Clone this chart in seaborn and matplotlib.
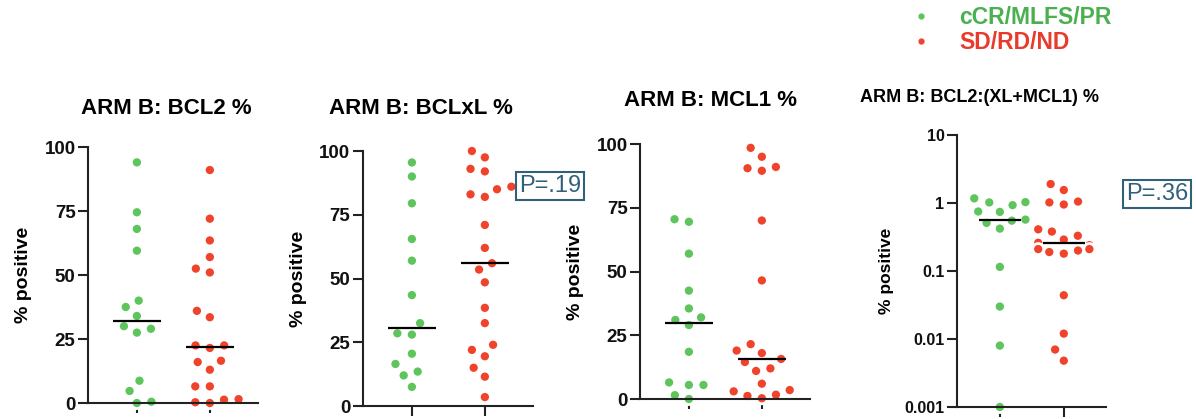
import numpy as np
import pandas as pd
import matplotlib
matplotlib.use("Agg")
import matplotlib.pyplot as plt
from matplotlib.lines import Line2D
import seaborn as sns

# response groups
groups = ["cCR/MLFS/PR", "SD/RD/ND"]
dot_colors = ["#5DC55B", "#F0432C"]
legend_colors = ["#4CB050", "#E93B2C"]

# values (% positive)
bcl2_cr = [94, 74.5, 68, 59.5, 40, 37.5, 34, 30, 29, 27.5, 8.7, 4.7, 0, 0.5]
bcl2_sd = [91, 72, 63.5, 57, 52.5, 51, 36, 33.5, 22.5, 22.5, 21.5, 16.5, 16, 13,
           6.5, 6.5, 1.5, 1.3, 0, 0.3]
bclxl_cr = [95.5, 90, 79.5, 65.5, 57, 43.5, 32.5, 28.5, 28, 20.5, 16.5, 13.5, 12, 7.5]
bclxl_sd = [100, 97.5, 93, 92, 86, 85, 83, 82, 71, 62, 56, 53.5, 48.5, 38.5, 32.5,
            24, 22, 19.5, 15, 11.5, 3.5]
mcl1_cr = [70.5, 69.5, 57, 42.5, 35.5, 32, 31, 29, 18.5, 6.5, 5.5, 5.5, 1.5, 0]
mcl1_sd = [98.5, 95, 91, 90.5, 89.5, 70, 46.5, 21.5, 19, 18, 15.7, 14.5, 12, 11,
           6, 4, 3.5, 3, 1.7, 1.2, 0.3]
ratio_cr = [1.17, 1.03, 1.02, 0.93, 0.75, 0.74, 0.57, 0.55, 0.51, 0.42, 0.115,
            0.03, 0.008, 0.001]
ratio_sd = [1.9, 1.55, 1.05, 1.02, 0.95, 0.41, 0.38, 0.33, 0.29, 0.27, 0.26, 0.24,
            0.21, 0.21, 0.2, 0.19, 0.18, 0.044, 0.012, 0.007, 0.0048]

titles = ["ARM B: BCL2 %", "ARM B: BCLxL %", "ARM B: MCL1 %", "ARM B: BCL2:(XL+MCL1) %"]
lin_ticks = [0, 25, 50, 75, 100]
log_ticks = [0.001, 0.01, 0.1, 1, 10]
log_labels = ["0.001", "0.01", "0.1", "1", "10"]
p_values = ["P=.19", "P=.36"]

sns.set_style("ticks")
plt.rcParams["font.family"] = ["Liberation Sans", "DejaVu Sans"]
plt.rcParams["font.weight"] = "bold"
plt.rcParams["text.color"] = "black"
plt.rcParams["axes.labelcolor"] = "black"
plt.rcParams["ytick.labelcolor"] = "#111111"

W, H = 1196, 419
fig = plt.figure(figsize=(W / 100, H / 100), dpi=100)


def add_ax(left, top, right, bottom):
    return fig.add_axes([left / W, 1 - bottom / H, (right - left) / W, (bottom - top) / H])


def draw_panel(ax, cr, sd, log=False):
    df = pd.DataFrame({"group": [groups[0]] * len(cr) + [groups[1]] * len(sd),
                       "value": cr + sd})
    if log:
        ax.set_yscale("log")
    sns.boxplot(data=df, x="group", y="value", order=groups, ax=ax, width=0.66,
                showbox=False, showcaps=False, showfliers=False,
                whiskerprops={"visible": False},
                medianprops={"color": "black", "linewidth": 1.6, "zorder": 5})
    sns.swarmplot(data=df, x="group", y="value", hue="group", order=groups,
                  hue_order=groups, palette=dot_colors, size=8, linewidth=2,
                  edgecolor="white", legend=False, ax=ax, clip_on=False, zorder=2)
    ax.set_xlim(-0.67, 1.66)
    ax.set_xticks([0, 1], labels=["", ""])
    ax.set_xlabel("")
    ax.tick_params(axis="x", length=7, width=1.5, color="#222222")
    ax.tick_params(axis="y", which="major", length=7, width=1.5, color="#222222", pad=2)
    ax.tick_params(axis="y", which="minor", length=0)
    for s in ["top", "right"]:
        ax.spines[s].set_visible(False)
    for s in ["left", "bottom"]:
        ax.spines[s].set_linewidth(1.5)
        ax.spines[s].set_color("#222222")


panels = [
    (add_ax(88, 147, 258, 403), bcl2_cr, bcl2_sd),
    (add_ax(363, 151, 533, 406), bclxl_cr, bclxl_sd),
    (add_ax(640, 144, 810, 399), mcl1_cr, mcl1_sd),
]
for ax, cr, sd in panels:
    draw_panel(ax, cr, sd)
    ax.set_ylim(0, 100)
    ax.set_yticks(lin_ticks)
    ax.tick_params(axis="y", labelsize=13.5)
    ax.set_ylabel("% positive", fontsize=14, fontweight="bold")
    ax.yaxis.set_label_coords(-0.33, 0.5)

ax4 = add_ax(957, 135, 1106, 407)
draw_panel(ax4, ratio_cr, ratio_sd, log=True)
ax4.set_ylim(0.001, 10)
ax4.set_yticks(log_ticks, labels=log_labels)
ax4.tick_params(axis="y", labelsize=11.5)
ax4.set_ylabel("% positive", fontsize=12.5, fontweight="bold")
ax4.yaxis.set_label_coords(-0.42, 0.5)

# titles
fig.text(166 / W, 1 - 109 / H, titles[0], ha="center", va="center", fontsize=16, fontweight="bold")
fig.text(421 / W, 1 - 108 / H, titles[1], ha="center", va="center", fontsize=16, fontweight="bold")
fig.text(711 / W, 1 - 101 / H, titles[2], ha="center", va="center", fontsize=16, fontweight="bold")
fig.text(980 / W, 1 - 98 / H, titles[3], ha="center", va="center", fontsize=13, fontweight="bold")

# p-value boxes
box = dict(boxstyle="square,pad=0.12", facecolor="white", edgecolor="#30607A", linewidth=1.5)
fig.text(550 / W, 1 - 186 / H, p_values[0], ha="center", va="center", fontsize=17,
         fontweight="normal", color="#30607A", bbox=box)
fig.text(1157 / W, 1 - 194 / H, p_values[1], ha="center", va="center", fontsize=17,
         fontweight="normal", color="#30607A", bbox=box)

# legend
handles = [Line2D([], [], ls="", marker="o", ms=3.5, color=c) for c in dot_colors]
fig.legend(handles, groups, loc="upper left", bbox_to_anchor=(910 / W, 1 - 6 / H),
           frameon=False, labelcolor=legend_colors, prop={"weight": "bold", "size": 16.5},
           handlelength=1.0, handletextpad=1.15, labelspacing=0.1, borderpad=0,
           borderaxespad=0)

fig.savefig("out.png", dpi=100)
